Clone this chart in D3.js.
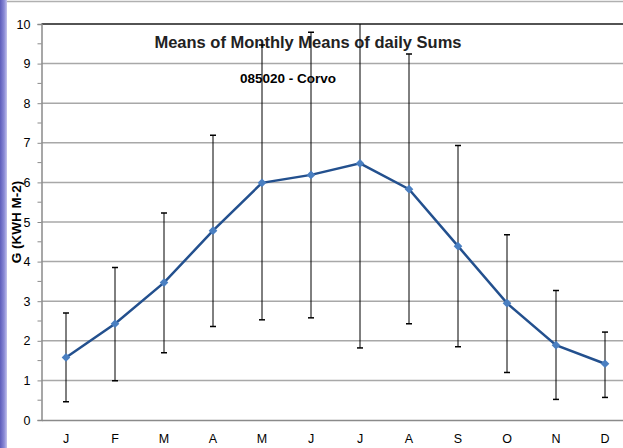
<!DOCTYPE html>
<html>
<head>
<meta charset="utf-8">
<script src="https://cdn.jsdelivr.net/npm/d3@7"></script>
<style>
  html, body { margin: 0; padding: 0; background: #fff; }
  svg { display: block; font-family: "Liberation Sans", Arial, sans-serif; }
</style>
</head>
<body>
<svg id="chart" width="623" height="448"></svg>
<script>
const months = ["J", "F", "M", "A", "M", "J", "J", "A", "S", "O", "N", "D"];
const means  = [1.58, 2.43, 3.47, 4.78, 5.99, 6.19, 6.48, 5.83, 4.39, 2.95, 1.89, 1.42];
const lower  = [0.46, 0.99, 1.70, 2.36, 2.53, 2.58, 1.82, 2.43, 1.85, 1.20, 0.52, 0.57];
const upper  = [2.70, 3.85, 5.23, 7.19, 9.47, 9.79, 11.5, 9.24, 6.93, 4.68, 3.27, 2.22];
const yTicks = [0, 1, 2, 3, 4, 5, 6, 7, 8, 9, 10];
const yMinorTicks = [0.5, 1.5, 2.5, 3.5, 4.5, 5.5, 6.5, 7.5, 8.5, 9.5];
const title = "Means of Monthly Means of daily Sums";
const subtitle = "085020 - Corvo";
const yLabel = "G (KWH M-2)";

const svg = d3.select("#chart");
const W = 623, H = 448;
const plot = { left: 41.5, top: 24, bottom: 420, right: 41.5 + 49 * 12 };

// left decorative strip
const defs = svg.append("defs");
const grad = defs.append("linearGradient").attr("id", "strip").attr("x1", "0").attr("x2", "1");
grad.append("stop").attr("offset", "0").attr("stop-color", "#5c5cba");
grad.append("stop").attr("offset", "0.6").attr("stop-color", "#8a8ad6");
grad.append("stop").attr("offset", "1").attr("stop-color", "#c4c4ec");
defs.append("clipPath").attr("id", "plotclip").append("rect")
  .attr("x", plot.left).attr("y", plot.top)
  .attr("width", plot.right - plot.left).attr("height", plot.bottom - plot.top);

svg.append("rect").attr("x", 0).attr("y", 0).attr("width", 7).attr("height", H).attr("fill", "url(#strip)");
// chart area top border
svg.append("line").attr("x1", 7).attr("x2", W).attr("y1", 1.5).attr("y2", 1.5)
  .attr("stroke", "#b0b0b0").attr("stroke-width", 1.5);

const x = d3.scaleBand().domain(d3.range(months.length)).range([plot.left, plot.right]).paddingInner(0).paddingOuter(0);
const y = d3.scaleLinear().domain([0, 10]).range([plot.bottom, plot.top]);
const cx = i => x(i) + x.bandwidth() / 2;

// gridlines
svg.append("g").selectAll("line").data(yTicks.filter(d => d > 0 && d < 10)).join("line")
  .attr("x1", plot.left).attr("x2", plot.right)
  .attr("y1", d => y(d)).attr("y2", d => y(d))
  .attr("stroke", "#a8a8a8").attr("stroke-width", 1.5);
// top border of plot (at 10)
svg.append("line").attr("x1", plot.left).attr("x2", plot.right)
  .attr("y1", y(10)).attr("y2", y(10)).attr("stroke", "#1a1a1a").attr("stroke-width", 1.5);

// y axis
const yAxis = d3.axisLeft(y).tickValues(yTicks).tickSize(4).tickPadding(7).tickFormat(d3.format("d"));
const gy = svg.append("g").attr("transform", `translate(${plot.left},0)`).call(yAxis);
gy.select(".domain").attr("stroke", "#8a8a8a").attr("stroke-width", 1.5);
gy.selectAll(".tick line").attr("stroke", "#8a8a8a");
gy.selectAll(".tick text").attr("font-size", 12.5).attr("fill", "#000").attr("font-family", "Liberation Sans, Arial, sans-serif");
svg.append("g").selectAll("line").data(yMinorTicks).join("line")
  .attr("x1", plot.left - 4).attr("x2", plot.left)
  .attr("y1", d => y(d)).attr("y2", d => y(d)).attr("stroke", "#8a8a8a");

// x axis
const xAxis = d3.axisBottom(x).tickSize(0).tickPadding(14).tickFormat(i => months[i]);
const gx = svg.append("g").attr("transform", `translate(0,${plot.bottom})`).call(xAxis);
gx.select(".domain").attr("stroke", "#8a8a8a").attr("stroke-width", 1.5);
gx.selectAll(".tick text").attr("font-size", 12.5).attr("fill", "#000").attr("font-family", "Liberation Sans, Arial, sans-serif");

// y label
svg.append("text").attr("transform", "translate(20.5,222) rotate(-90)")
  .attr("text-anchor", "middle").attr("font-size", 13.5).attr("font-weight", "bold")
  .attr("fill", "#000").text(yLabel);

// titles
svg.append("text").attr("x", 308).attr("y", 48).attr("text-anchor", "middle")
  .attr("font-size", 16.5).attr("font-weight", "bold").attr("fill", "#222").text(title);
svg.append("text").attr("x", 288).attr("y", 83).attr("text-anchor", "middle")
  .attr("font-size", 13.5).attr("font-weight", "bold").attr("fill", "#000").text(subtitle);

// error bars
const eb = svg.append("g").attr("clip-path", "url(#plotclip)");
months.forEach((m, i) => {
  eb.append("line").attr("x1", cx(i)).attr("x2", cx(i))
    .attr("y1", y(lower[i])).attr("y2", y(upper[i]))
    .attr("stroke", "#000").attr("stroke-width", 1);
  [lower[i], upper[i]].forEach(v => {
    eb.append("line").attr("x1", cx(i) - 3).attr("x2", cx(i) + 3)
      .attr("y1", y(v)).attr("y2", y(v)).attr("stroke", "#000").attr("stroke-width", 1.5);
  });
});

// line
const line = d3.line().x((d, i) => cx(i)).y(d => y(d));
svg.append("path").datum(means).attr("d", line)
  .attr("fill", "none").attr("stroke", "#23508e").attr("stroke-width", 2.5);

// markers
svg.append("g").selectAll("path").data(means).join("path")
  .attr("d", d3.symbol().type(d3.symbolDiamond2).size(48))
  .attr("transform", (d, i) => `translate(${cx(i)},${y(d)})`)
  .attr("fill", "#4a7fc1");
</script>
</body>
</html>
